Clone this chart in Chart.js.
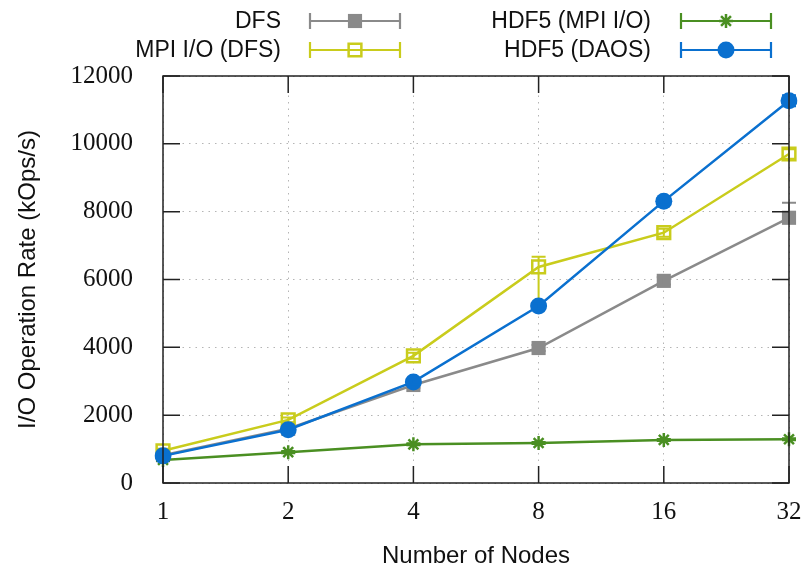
<!DOCTYPE html>
<html>
<head>
<meta charset="utf-8">
<script src="https://cdn.jsdelivr.net/npm/chart.js@4.4.1/dist/chart.umd.min.js"></script>
<style>
  html, body { margin: 0; padding: 0; background: #fff; }
  #wrap { width: 803px; height: 568px; }
</style>
</head>
<body>
<div id="wrap"><canvas id="chart" width="803" height="568"></canvas></div>
<script>
// node counts on the x axis
const nodes = ["1", "2", "4", "8", "16", "32"];

// I/O operation rate (kOps/s)
const dfsRate     = [820, 1600, 2890, 3980, 5960, 7820];
const mpiDfsRate  = [950, 1860, 3750, 6370, 7380, 9700];
const hdfMpiRate  = [680, 910, 1140, 1180, 1270, 1290];
const hdfDaosRate = [800, 1570, 2980, 5220, 8310, 11270];

// error bar extent below / above each point
const dfsLow      = [40, 50, 80, 90, 110, 60];
const dfsHigh     = [40, 50, 80, 90, 110, 440];
const mpiDfsLow   = [60, 70, 90, 1070, 120, 140];
const mpiDfsHigh  = [60, 70, 90, 300, 120, 140];
const hdfMpiLow   = [30, 30, 30, 30, 30, 30];
const hdfMpiHigh  = [30, 30, 30, 30, 30, 30];
const hdfDaosLow  = [50, 60, 70, 80, 90, 160];
const hdfDaosHigh = [50, 60, 70, 80, 90, 160];

const GRAY = "#8a8a8a", YELLOW = "#c9cc1c", GREEN = "#4a8f22", BLUE = "#0a70cf";
const SANS = "'Liberation Sans', Arial, sans-serif";
const SERIF = "'Liberation Serif', 'DejaVu Serif', serif";

const datasets = [
  { label: "DFS", data: dfsRate, low: dfsLow, high: dfsHigh, borderColor: GRAY, backgroundColor: GRAY,
    pointStyle: "rect", pointRadius: 10, pointBorderWidth: 0, order: 3 },
  { label: "MPI I/O (DFS)", data: mpiDfsRate, low: mpiDfsLow, high: mpiDfsHigh, borderColor: YELLOW,
    backgroundColor: "rgba(0,0,0,0)", pointStyle: "rect", pointRadius: 9, pointBorderWidth: 2.5, order: 2 },
  { label: "HDF5 (MPI I/O)", data: hdfMpiRate, low: hdfMpiLow, high: hdfMpiHigh, borderColor: GREEN,
    backgroundColor: GREEN, pointStyle: "star", pointRadius: 7, pointBorderWidth: 2.5, order: 1 },
  { label: "HDF5 (DAOS)", data: hdfDaosRate, low: hdfDaosLow, high: hdfDaosHigh, borderColor: BLUE,
    backgroundColor: BLUE, pointStyle: "circle", pointRadius: 8.5, pointBorderWidth: 0, order: 0 },
];
datasets.forEach(d => {
  d.borderWidth = 2.5;
  d.pointBorderColor = d.borderColor;
  d.pointBackgroundColor = d.backgroundColor;
  d.tension = 0;
  d.fill = false;
});

// vertical error bars with caps, drawn from the scales
const errorBars = {
  id: "errorBars",
  afterDatasetDraw(chart, args) {
    const ds = chart.data.datasets[args.index];
    const x = chart.scales.x, y = chart.scales.y;
    const ctx = chart.ctx;
    ctx.save();
    ctx.strokeStyle = ds.borderColor;
    ctx.lineWidth = 2;
    ds.data.forEach((v, i) => {
      const px = x.getPixelForValue(i);
      const top = y.getPixelForValue(v + ds.high[i]);
      const bot = y.getPixelForValue(v - ds.low[i]);
      ctx.beginPath();
      ctx.moveTo(px, top); ctx.lineTo(px, bot);
      ctx.moveTo(px - 7, top); ctx.lineTo(px + 7, top);
      ctx.moveTo(px - 7, bot); ctx.lineTo(px + 7, bot);
      ctx.stroke();
    });
    ctx.restore();
  }
};

// gnuplot-like frame with inward ticks on all four sides
const frame = {
  id: "frame",
  afterDraw(chart) {
    const { ctx, chartArea: a, scales } = chart;
    ctx.save();
    ctx.strokeStyle = "#222";
    ctx.lineWidth = 1.5;
    ctx.strokeRect(a.left, a.top, a.right - a.left, a.bottom - a.top);
    ctx.beginPath();
    scales.y.ticks.forEach((t, i) => {
      const py = scales.y.getPixelForTick(i);
      ctx.moveTo(a.left, py); ctx.lineTo(a.left + 17, py);
      ctx.moveTo(a.right, py); ctx.lineTo(a.right - 17, py);
    });
    scales.x.ticks.forEach((t, i) => {
      const px = scales.x.getPixelForTick(i);
      ctx.moveTo(px, a.bottom); ctx.lineTo(px, a.bottom - 17);
      ctx.moveTo(px, a.top); ctx.lineTo(px, a.top + 17);
    });
    ctx.stroke();
    ctx.restore();
  }
};

// two-column key at the top
const key = {
  id: "key",
  afterDraw(chart) {
    const ctx = chart.ctx;
    const spots = [
      { tx: 281, sx: 310, y: 21 },
      { tx: 281, sx: 310, y: 50 },
      { tx: 651, sx: 681, y: 21 },
      { tx: 651, sx: 681, y: 50 },
    ];
    ctx.save();
    ctx.font = "23px " + SANS;
    ctx.textAlign = "right";
    ctx.textBaseline = "middle";
    chart.data.datasets.forEach((ds, i) => {
      const s = spots[i];
      ctx.fillStyle = "#111";
      ctx.fillText(ds.label, s.tx, s.y + 1);
      const x0 = s.sx, x1 = s.sx + 90, xm = (x0 + x1) / 2;
      ctx.strokeStyle = ds.borderColor;
      ctx.lineWidth = 2.2;
      ctx.beginPath();
      ctx.moveTo(x0, s.y); ctx.lineTo(x1, s.y);
      ctx.moveTo(x0, s.y - 8); ctx.lineTo(x0, s.y + 8);
      ctx.moveTo(x1, s.y - 8); ctx.lineTo(x1, s.y + 8);
      ctx.stroke();
      ctx.fillStyle = ds.pointBackgroundColor;
      ctx.lineWidth = ds.pointBorderWidth;
      Chart.helpers.drawPoint(ctx, {
        pointStyle: ds.pointStyle, radius: ds.pointRadius, rotation: 0,
        borderWidth: ds.pointBorderWidth
      }, xm, s.y);
    });
    ctx.restore();
  }
};

new Chart(document.getElementById("chart"), {
  type: "line",
  data: { labels: nodes, datasets: datasets },
  plugins: [errorBars, frame, key],
  options: {
    responsive: false,
    animation: false,
    layout: { padding: { top: 76, right: 14, left: 0, bottom: 0 } },
    plugins: { legend: { display: false }, tooltip: { enabled: false } },
    scales: {
      x: {
        type: "category",
        offset: false,
        afterFit(s) { s.height = 85; s.paddingLeft = 0; s.paddingRight = 0; },
        grid: { color: "#b5b5b5", lineWidth: 1, drawTicks: false },
        border: { display: false, dash: [1.5, 5] },
        ticks: { color: "#111", font: { family: SERIF, size: 25 }, padding: 14, maxRotation: 0 },
        title: { display: true, text: "Number of Nodes", color: "#111",
                 font: { family: SANS, size: 24, lineHeight: 1 }, padding: { top: 0, bottom: 0 } }
      },
      y: {
        min: 0, max: 12000,
        afterFit(s) { s.width = 163; },
        grid: { color: "#b5b5b5", lineWidth: 1, drawTicks: false },
        border: { display: false, dash: [1.5, 5] },
        ticks: { stepSize: 2000, color: "#111", font: { family: SERIF, size: 25 }, padding: 30,
                 callback: v => String(v) },
        title: { display: true, text: "I/O Operation Rate (kOps/s)", color: "#111",
                 font: { family: SANS, size: 24, lineHeight: 1 }, padding: { top: 16, bottom: 0 } }
      }
    }
  }
});
</script>
</body>
</html>
